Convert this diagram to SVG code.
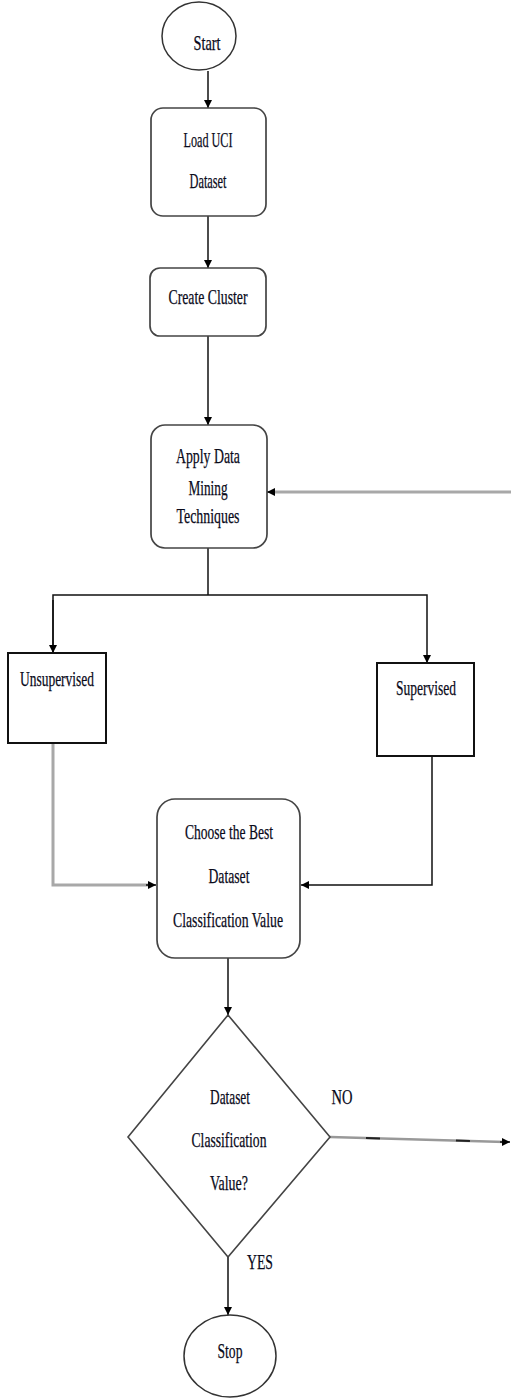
<svg xmlns="http://www.w3.org/2000/svg" width="511" height="1400" viewBox="0 0 511 1400">
<defs>
<marker id="ah" viewBox="0 0 10 10" refX="10" refY="5" markerWidth="8" markerHeight="8" markerUnits="userSpaceOnUse" orient="auto">
<path d="M0,0 L10,5 L0,10 z" fill="#000"/>
</marker>
<style>
.t{font-family:"Liberation Serif","Times New Roman",serif;font-size:21px;fill:#0a0a1a;stroke:#0a0a1a;stroke-width:0.25;text-anchor:middle}
.rr{fill:#fff;stroke:#444;stroke-width:1.7}
.bx{fill:#fff;stroke:#111;stroke-width:2}
.c{fill:none;stroke:#111;stroke-width:1.5}
.g{fill:none;stroke:#a8a8a8;stroke-width:3}
</style>
</defs>
<rect width="511" height="1400" fill="#fff"/>
<g id="connectors">
<line class="c" x1="208" y1="71" x2="208" y2="108" marker-end="url(#ah)"/>
<line class="c" x1="208" y1="216" x2="208" y2="268" marker-end="url(#ah)"/>
<line class="c" x1="208" y1="336" x2="208" y2="425" marker-end="url(#ah)"/>
<polyline class="c" points="208,548 208,595"/>
<polyline class="c" points="53,653 53,595 427,595 427,663" marker-end="url(#ah)"/>
<line class="c" x1="53" y1="600" x2="53" y2="653" marker-end="url(#ah)"/>
<polyline class="g" points="53,743 53,885 148,885"/>
<line class="c" x1="146" y1="885" x2="156" y2="885" marker-end="url(#ah)"/>
<polyline class="c" points="432,756 432,885 301,885" marker-end="url(#ah)"/>
<line class="g" x1="511" y1="492" x2="272" y2="492"/>
<line class="c" x1="274" y1="492" x2="267" y2="492" marker-end="url(#ah)"/>
<line class="c" x1="228" y1="958" x2="228" y2="1015" marker-end="url(#ah)"/>
<line x1="330" y1="1137" x2="505" y2="1142" stroke="#999" stroke-width="2.5"/>
<line x1="330" y1="1137" x2="505" y2="1142" stroke="#222" stroke-width="2" stroke-dasharray="0,36,14,40"/>
<line class="c" x1="500" y1="1142" x2="510" y2="1142" marker-end="url(#ah)"/>
<line class="c" x1="228" y1="1257" x2="228" y2="1315" marker-end="url(#ah)"/>
</g>
<g id="start">
<ellipse cx="199" cy="36" rx="37" ry="34" fill="#fff" stroke="#333" stroke-width="1.5"/>
<text class="t" x="207" y="50" textLength="27" lengthAdjust="spacingAndGlyphs">Start</text>
</g>
<g id="load">
<rect class="rr" x="151" y="108" width="115" height="108" rx="12"/>
<text class="t" x="208" y="147" textLength="49" lengthAdjust="spacingAndGlyphs">Load UCI</text>
<text class="t" x="208" y="188" textLength="37" lengthAdjust="spacingAndGlyphs">Dataset</text>
</g>
<g id="cluster">
<rect class="rr" x="150" y="268" width="116" height="68" rx="10"/>
<text class="t" x="208" y="304" textLength="79" lengthAdjust="spacingAndGlyphs">Create Cluster</text>
</g>
<g id="apply">
<rect class="rr" x="151" y="425" width="116" height="123" rx="14"/>
<text class="t" x="208" y="463" textLength="64" lengthAdjust="spacingAndGlyphs">Apply Data</text>
<text class="t" x="208" y="495" textLength="39" lengthAdjust="spacingAndGlyphs">Mining</text>
<text class="t" x="208" y="523" textLength="63" lengthAdjust="spacingAndGlyphs">Techniques</text>
</g>
<g id="unsupervised">
<rect class="bx" x="8" y="653" width="98" height="90"/>
<text class="t" x="57" y="686" textLength="74" lengthAdjust="spacingAndGlyphs">Unsupervised</text>
</g>
<g id="supervised">
<rect class="bx" x="377" y="663" width="97" height="93"/>
<text class="t" x="426" y="695" textLength="60" lengthAdjust="spacingAndGlyphs">Supervised</text>
</g>
<g id="choose">
<rect class="rr" x="157" y="799" width="143" height="159" rx="18"/>
<text class="t" x="229" y="839" textLength="88" lengthAdjust="spacingAndGlyphs">Choose the Best</text>
<text class="t" x="229" y="883" textLength="41" lengthAdjust="spacingAndGlyphs">Dataset</text>
<text class="t" x="228" y="927" textLength="110" lengthAdjust="spacingAndGlyphs">Classification Value</text>
</g>
<g id="decision">
<polygon points="228,1015 330,1137 228,1257 128,1137" fill="#fff" stroke="#444" stroke-width="1.6"/>
<text class="t" x="230" y="1104" textLength="40" lengthAdjust="spacingAndGlyphs">Dataset</text>
<text class="t" x="229" y="1147" textLength="75" lengthAdjust="spacingAndGlyphs">Classification</text>
<text class="t" x="229" y="1190" textLength="38" lengthAdjust="spacingAndGlyphs">Value?</text>
</g>
<g id="labels">
<text class="t" x="342" y="1104" textLength="21" lengthAdjust="spacingAndGlyphs">NO</text>
<text class="t" x="260" y="1269" textLength="26" lengthAdjust="spacingAndGlyphs">YES</text>
</g>
<g id="stop">
<ellipse cx="230" cy="1356" rx="46" ry="41" fill="#fff" stroke="#333" stroke-width="1.5"/>
<text class="t" x="230" y="1358" textLength="25" lengthAdjust="spacingAndGlyphs">Stop</text>
</g>
</svg>
